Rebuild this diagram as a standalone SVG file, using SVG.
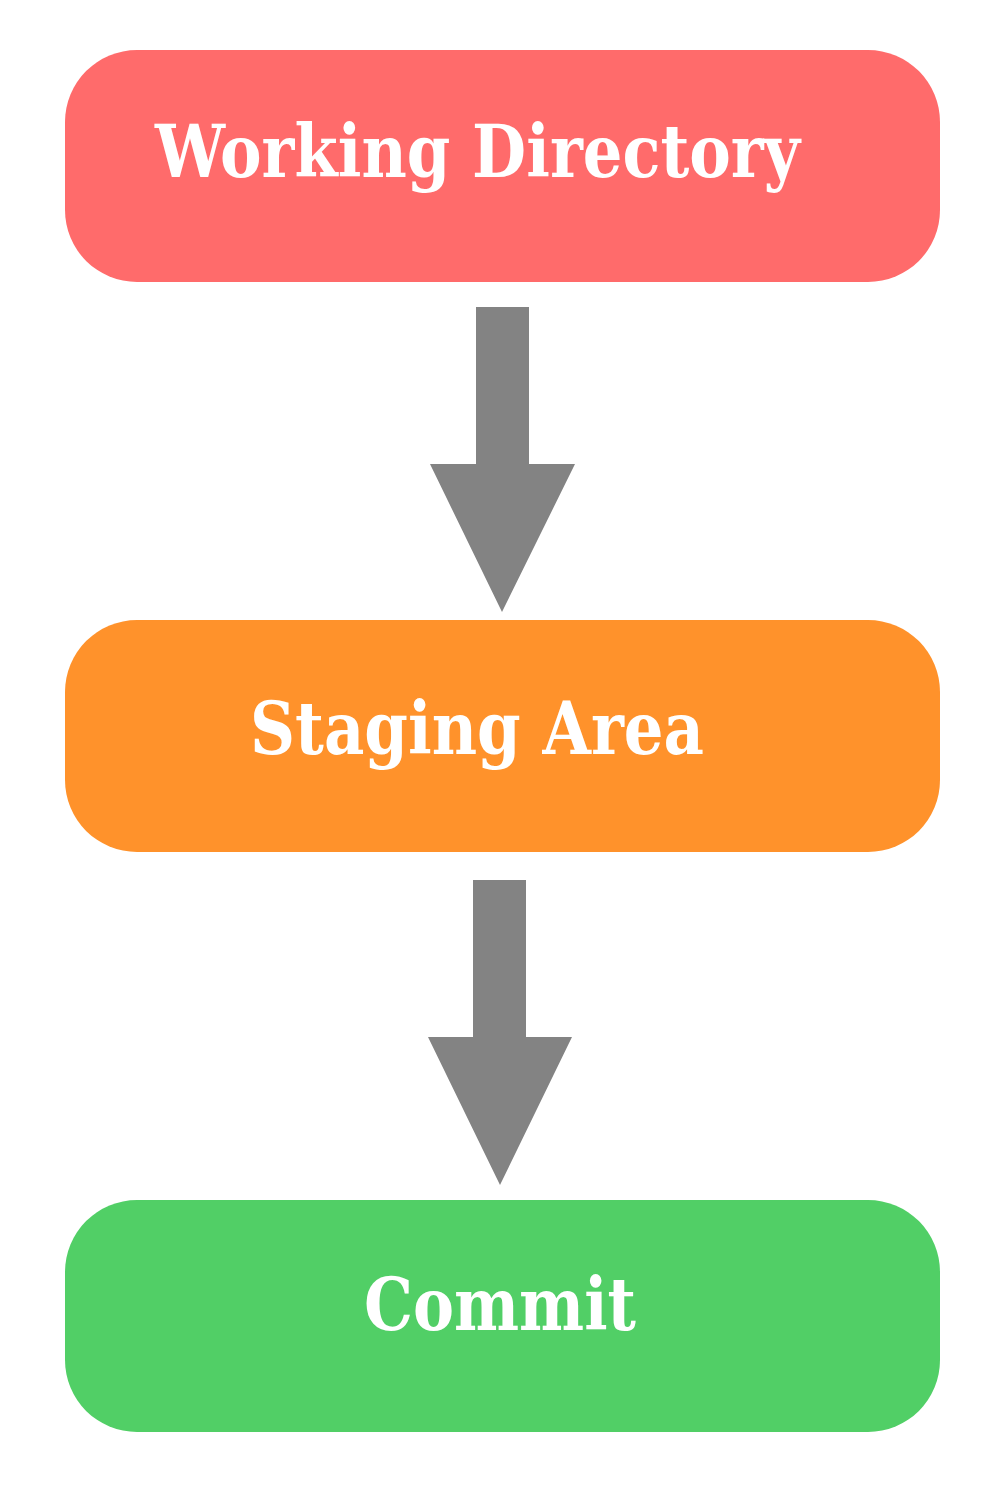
<svg xmlns="http://www.w3.org/2000/svg" width="1000" height="1485" viewBox="0 0 1000 1485">
<style>
.box{stroke:none}
.lbl{font-family:"DejaVu Serif","Liberation Serif",serif;font-weight:bold;font-size:72px;fill:#ffffff}
.arr{fill:#838383}
</style>
<rect x="0" y="0" width="1000" height="1485" fill="#ffffff"/>
<g id="connectors">
<polygon class="arr" points="476,307 529,307 529,464 575,464 502,612 430,464 476,464"/>
<polygon class="arr" points="473,880 526,880 526,1037 572,1037 500,1185 428,1037 473,1037"/>
</g>
<g id="node-working">
<rect class="box" x="65" y="50" width="875" height="232" rx="72" ry="72" fill="#FF6B6B"/>
<text class="lbl" x="155" y="177" textLength="645" lengthAdjust="spacingAndGlyphs">Working Directory</text>
</g>
<g id="node-staging">
<rect class="box" x="65" y="620" width="875" height="232" rx="72" ry="72" fill="#FF922B"/>
<text class="lbl" x="250" y="754" textLength="454" lengthAdjust="spacingAndGlyphs">Staging Area</text>
</g>
<g id="node-commit">
<rect class="box" x="65" y="1200" width="875" height="232" rx="72" ry="72" fill="#51CF66"/>
<text class="lbl" x="364" y="1330" textLength="272" lengthAdjust="spacingAndGlyphs">Commit</text>
</g>
</svg>
